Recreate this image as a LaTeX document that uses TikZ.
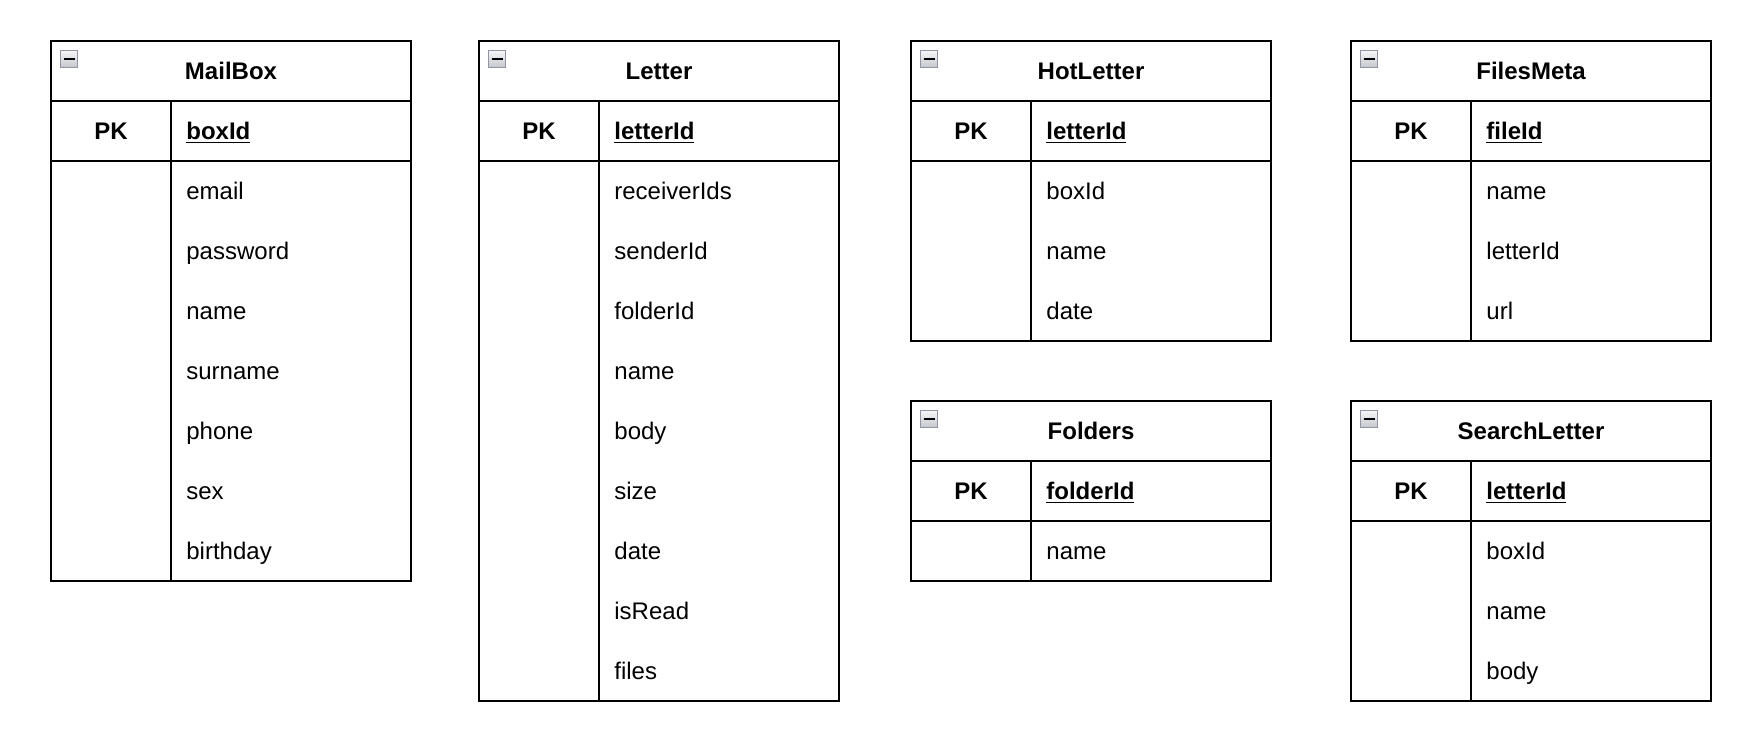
\documentclass[tikz,border=0pt]{standalone}
\usepackage{fontspec}
\setmainfont{Liberation Sans}
\definecolor{iconedge}{RGB}{146,150,164}
\definecolor{icontop}{RGB}{246,246,248}
\definecolor{iconbottom}{RGB}{196,198,204}

\begin{document}
\begin{tikzpicture}[x=0.5pt,y=-0.5pt,
  tbl/.style={line width=0.85pt},
  icon/.style={draw=iconedge, line width=0.6pt, top color=icontop, bottom color=iconbottom,
    minimum size=8.5pt, inner sep=0pt},
  title/.style={font=\bfseries\fontsize{12}{14}\selectfont, inner sep=0pt, text height=8.6pt, text depth=0pt},
  key/.style={title},
  field/.style={anchor=west, font=\fontsize{12}{14}\selectfont, inner sep=0pt, text height=8.6pt, text depth=0pt}]

\useasboundingbox (0,0) rectangle (1760,736);

% MailBox
\draw[tbl] (51,41) rectangle (411,581);
\draw[tbl] (51,101) -- (411,101);
\draw[tbl] (51,161) -- (411,161);
\draw[tbl] (171,101) -- (171,581);
\node[icon] (mailboxicon) at (69,59) {\rule{5.5pt}{1.1pt}};
\node[title] (mailbox) at (231,71) {MailBox};
\node[key] (mailboxpk) at (111,131) {PK};
\node[field] (mailboxid) at (186,131) {\bfseries\underline{boxId}};
\node[field] (mailboxemail) at (186,191) {email};
\node[field] (mailboxpassword) at (186,251) {password};
\node[field] (mailboxname) at (186,311) {name};
\node[field] (mailboxsurname) at (186,371) {surname};
\node[field] (mailboxphone) at (186,431) {phone};
\node[field] (mailboxsex) at (186,491) {sex};
\node[field] (mailboxbirthday) at (186,551) {birthday};

% Letter
\draw[tbl] (479,41) rectangle (839,701);
\draw[tbl] (479,101) -- (839,101);
\draw[tbl] (479,161) -- (839,161);
\draw[tbl] (599,101) -- (599,701);
\node[icon] (lettericon) at (497,59) {\rule{5.5pt}{1.1pt}};
\node[title] (letter) at (659,71) {Letter};
\node[key] (letterpk) at (539,131) {PK};
\node[field] (letterid) at (614,131) {\bfseries\underline{letterId}};
\node[field] (letterreceivers) at (614,191) {receiverIds};
\node[field] (lettersender) at (614,251) {senderId};
\node[field] (letterfolder) at (614,311) {folderId};
\node[field] (lettername) at (614,371) {name};
\node[field] (letterbody) at (614,431) {body};
\node[field] (lettersize) at (614,491) {size};
\node[field] (letterdate) at (614,551) {date};
\node[field] (letterread) at (614,611) {isRead};
\node[field] (letterfiles) at (614,671) {files};

% HotLetter
\draw[tbl] (911,41) rectangle (1271,341);
\draw[tbl] (911,101) -- (1271,101);
\draw[tbl] (911,161) -- (1271,161);
\draw[tbl] (1031,101) -- (1031,341);
\node[icon] (hoticon) at (929,59) {\rule{5.5pt}{1.1pt}};
\node[title] (hot) at (1091,71) {HotLetter};
\node[key] (hotpk) at (971,131) {PK};
\node[field] (hotid) at (1046,131) {\bfseries\underline{letterId}};
\node[field] (hotbox) at (1046,191) {boxId};
\node[field] (hotname) at (1046,251) {name};
\node[field] (hotdate) at (1046,311) {date};

% Folders
\draw[tbl] (911,401) rectangle (1271,581);
\draw[tbl] (911,461) -- (1271,461);
\draw[tbl] (911,521) -- (1271,521);
\draw[tbl] (1031,461) -- (1031,581);
\node[icon] (foldersicon) at (929,419) {\rule{5.5pt}{1.1pt}};
\node[title] (folders) at (1091,431) {Folders};
\node[key] (folderspk) at (971,491) {PK};
\node[field] (foldersid) at (1046,491) {\bfseries\underline{folderId}};
\node[field] (foldersname) at (1046,551) {name};

% FilesMeta
\draw[tbl] (1351,41) rectangle (1711,341);
\draw[tbl] (1351,101) -- (1711,101);
\draw[tbl] (1351,161) -- (1711,161);
\draw[tbl] (1471,101) -- (1471,341);
\node[icon] (filesicon) at (1369,59) {\rule{5.5pt}{1.1pt}};
\node[title] (files) at (1531,71) {FilesMeta};
\node[key] (filespk) at (1411,131) {PK};
\node[field] (filesid) at (1486,131) {\bfseries\underline{fileId}};
\node[field] (filesname) at (1486,191) {name};
\node[field] (filesletter) at (1486,251) {letterId};
\node[field] (filesurl) at (1486,311) {url};

% SearchLetter
\draw[tbl] (1351,401) rectangle (1711,701);
\draw[tbl] (1351,461) -- (1711,461);
\draw[tbl] (1351,521) -- (1711,521);
\draw[tbl] (1471,461) -- (1471,701);
\node[icon] (searchicon) at (1369,419) {\rule{5.5pt}{1.1pt}};
\node[title] (search) at (1531,431) {SearchLetter};
\node[key] (searchpk) at (1411,491) {PK};
\node[field] (searchid) at (1486,491) {\bfseries\underline{letterId}};
\node[field] (searchbox) at (1486,551) {boxId};
\node[field] (searchname) at (1486,611) {name};
\node[field] (searchbody) at (1486,671) {body};

\end{tikzpicture}
\end{document}
